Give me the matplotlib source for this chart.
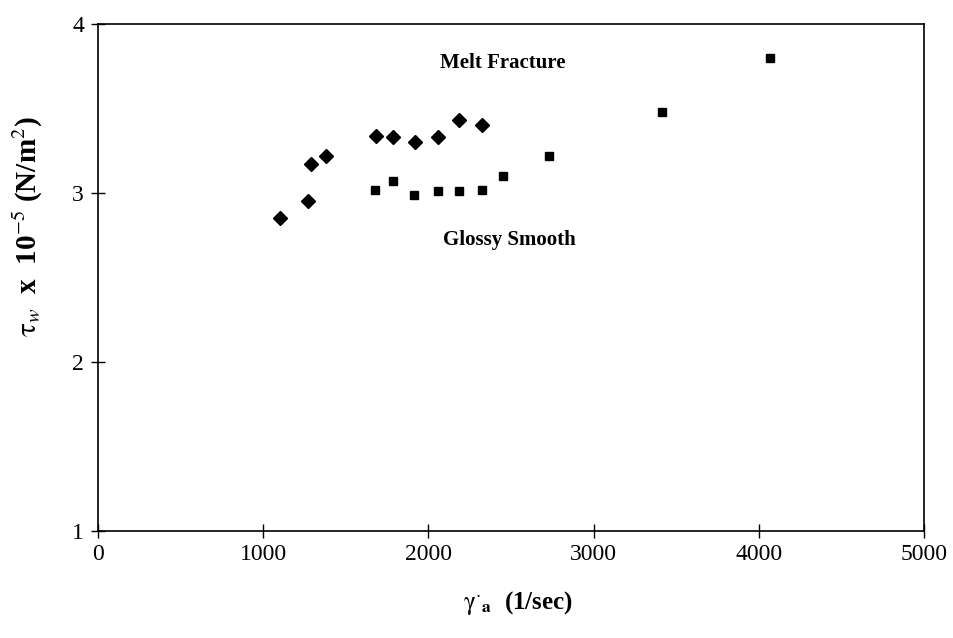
import matplotlib
matplotlib.use("Agg")
import matplotlib.pyplot as plt

plt.rcParams['font.family'] = ['Liberation Serif', 'DejaVu Serif']
plt.rcParams['mathtext.fontset'] = 'stix'

# melt fracture (diamonds)
mf_rate = [1104, 1271, 1291, 1382, 1680, 1784, 1920, 2056, 2187, 2324]
mf_tau = [2.85, 2.95, 3.17, 3.22, 3.34, 3.33, 3.30, 3.33, 3.43, 3.40]

# glossy smooth (squares)
gs_rate = [1678, 1784, 1915, 2056, 2183, 2322, 2453, 2727, 3414, 4067]
gs_tau = [3.02, 3.07, 2.99, 3.01, 3.01, 3.02, 3.10, 3.22, 3.48, 3.80]

xticks = [0, 1000, 2000, 3000, 4000, 5000]
yticks = [1, 2, 3, 4]

fig = plt.figure(figsize=(9.54, 6.38), dpi=100)
ax = fig.add_axes([0.1027, 0.1677, 0.866, 0.7947])

ax.plot(mf_rate, mf_tau, 'D', color='black', markersize=7.5, linestyle='none')
ax.plot(gs_rate, gs_tau, 's', color='black', markersize=6, linestyle='none')

ax.set_xlim(0, 5000)
ax.set_ylim(1, 4)
ax.set_xticks(xticks)
ax.set_yticks(yticks)
ax.tick_params(direction='inout', length=10, width=1, labelsize=17)
ax.tick_params(axis='x', pad=4)
ax.tick_params(axis='y', pad=5)
for s in ax.spines.values():
    s.set_linewidth(1.2)

ax.text(2450, 3.77, 'Melt Fracture', fontsize=15, fontweight='bold', ha='center', va='center')
ax.text(2490, 2.72, 'Glossy Smooth', fontsize=15, fontweight='bold', ha='center', va='center')

ax.set_xlabel(r'$\mathrm{\gamma}^{\cdot}{}_{\mathbf{a}}$  (1/sec)', fontsize=18, fontweight='bold')
ax.xaxis.set_label_coords(0.508, -0.115)
ax.set_ylabel(r'$\mathrm{\tau}_w$  x  10$^{-5}$ (N/m$^2$)', fontsize=21, fontweight='bold')
ax.yaxis.set_label_coords(-0.064, 0.60)

fig.savefig('out.png', dpi=100)
